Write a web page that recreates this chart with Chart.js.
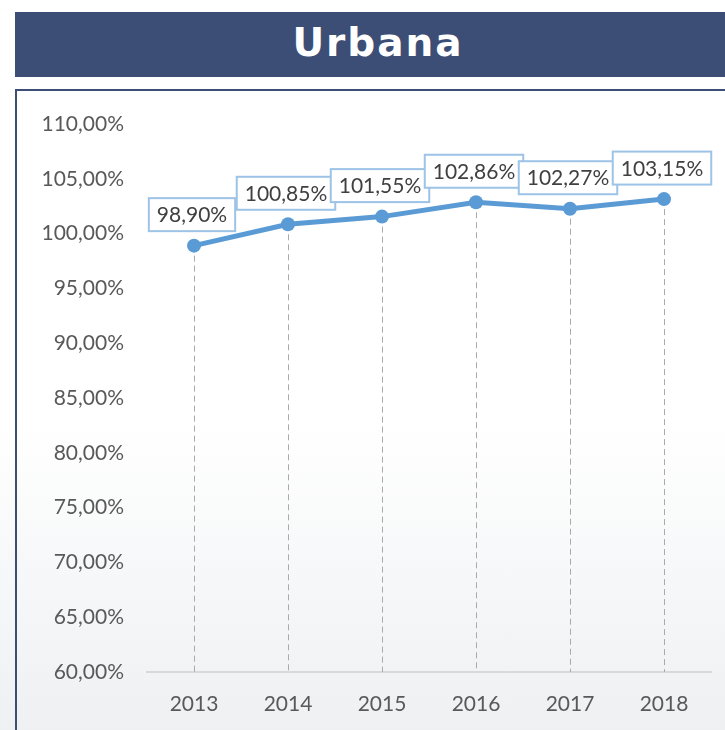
<!DOCTYPE html>
<html>
<head>
<meta charset="utf-8">
<script src="https://cdn.jsdelivr.net/npm/chart.js@4"></script>
<style>
  html, body { margin: 0; padding: 0; }
  body {
    width: 725px; height: 730px; overflow: hidden; position: relative;
    background: linear-gradient(#ffffff 0%, #ffffff 58%, #eef0f2 100%);
    font-family: Lato, "DejaVu Sans", sans-serif;
  }
  #title {
    position: absolute; left: 15px; top: 12px; width: 720px; height: 65px;
    background: #3c4e75; color: #fff; font-weight: bold;
    font-family: "DejaVu Sans", sans-serif; font-size: 39px; letter-spacing: 2px;
    text-align: center; line-height: 62px; text-indent: 6px;
  }
  #frame {
    position: absolute; left: 15px; top: 89px; width: 720px; height: 700px;
    border-left: 2px solid #3c4e75; border-top: 2px solid #3c4e75;
  }
  #chart { position: absolute; left: 0; top: 0; }
</style>
</head>
<body>
<div id="title">Urbana</div>
<div id="frame"></div>
<canvas id="chart" width="725" height="730"></canvas>
<script>
// data //
const years = ['2013', '2014', '2015', '2016', '2017', '2018'];
const urbana = [98.90, 100.85, 101.55, 102.86, 102.27, 103.15];
const yTicks = [60, 65, 70, 75, 80, 85, 90, 95, 100, 105, 110];

const fmt = v => v.toFixed(2).replace('.', ',') + '%';

// dashed drop lines + boxed value labels //
const extras = {
    id: 'extras',
    beforeDatasetsDraw(chart) {
        const ctx = chart.ctx;
        const bottom = chart.chartArea.bottom;
        ctx.save();
        ctx.strokeStyle = '#aaaaaa';
        ctx.lineWidth = 1;
        ctx.setLineDash([6, 4]);
        chart.getDatasetMeta(0).data.forEach(p => {
            ctx.beginPath();
            ctx.moveTo(Math.round(p.x) + 0.5, p.y);
            ctx.lineTo(Math.round(p.x) + 0.5, bottom);
            ctx.stroke();
        });
        ctx.restore();
    },
    afterDatasetsDraw(chart) {
        const ctx = chart.ctx;
        ctx.save();
        ctx.font = '21px Lato, "DejaVu Sans", sans-serif';
        ctx.textAlign = 'center';
        ctx.textBaseline = 'middle';
        chart.getDatasetMeta(0).data.forEach((p, i) => {
            const txt = fmt(urbana[i]);
            const w = ctx.measureText(txt).width + 16;
            const h = 33;
            const cx = p.x - 2;
            const cy = p.y - 31;
            ctx.fillStyle = '#ffffff';
            ctx.fillRect(cx - w / 2, cy - h / 2, w, h);
            ctx.strokeStyle = '#9dc3e6';
            ctx.lineWidth = 2;
            ctx.strokeRect(cx - w / 2, cy - h / 2, w, h);
            ctx.fillStyle = '#404040';
            ctx.fillText(txt, cx, cy + 1);
        });
        ctx.restore();
    }
};

new Chart(document.getElementById('chart').getContext('2d'), {
    type: 'line',
    data: {
        labels: years,
        datasets: [{
            label: 'Urbana',
            data: urbana,
            borderColor: '#5b9bd5',
            backgroundColor: '#5b9bd5',
            borderWidth: 5,
            pointRadius: 7,
            pointBackgroundColor: '#5b9bd5',
            pointBorderWidth: 0,
            tension: 0
        }]
    },
    options: {
        responsive: false,
        animation: false,
        layout: { padding: { left: 20, right: 14, top: 124, bottom: 0 } },
        plugins: { legend: { display: false }, tooltip: { enabled: false } },
        scales: {
            x: {
                offset: true,
                grid: { display: false, drawTicks: false },
                border: { display: true, color: '#d9d9d9', width: 2 },
                ticks: { color: '#595959', font: { family: 'Lato', size: 21 }, padding: 20 },
                afterFit: s => { s.height = 58; }
            },
            y: {
                min: 60,
                max: 110,
                afterBuildTicks: s => { s.ticks = yTicks.map(v => ({ value: v })); },
                grid: { display: false, drawTicks: false },
                border: { display: false },
                ticks: {
                    color: '#595959',
                    font: { family: 'Lato', size: 21 },
                    padding: 23,
                    callback: v => fmt(v)
                },
                afterFit: s => { s.width = 127; }
            }
        }
    },
    plugins: [extras]
});
</script>
</body>
</html>
